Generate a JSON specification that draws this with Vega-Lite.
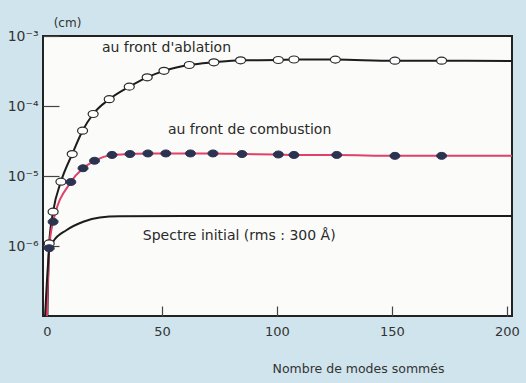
{
  "$schema": "https://vega.github.io/schema/vega-lite/v6.json",
  "width": 469,
  "height": 280,
  "autosize": {"type": "none"},
  "padding": {"left": 43, "top": 36, "right": 14, "bottom": 67},
  "background": "#cfe4ec",
  "config": {
    "view": {"fill": "#fbfbf9", "stroke": "#222222", "strokeWidth": 2},
    "font": "DejaVu Sans"
  },
  "datasets": {
    "curves": [
      {"series": "ablation", "x": 0.2, "y": 1e-7, "marked": false},
      {"series": "ablation", "x": 1.0, "y": 1.09e-6, "marked": true},
      {"series": "ablation", "x": 2.7, "y": 3.09e-6, "marked": true},
      {"series": "ablation", "x": 6.1, "y": 8.3e-6, "marked": true},
      {"series": "ablation", "x": 11, "y": 2.06e-5, "marked": true},
      {"series": "ablation", "x": 15.5, "y": 4.44e-5, "marked": true},
      {"series": "ablation", "x": 20.1, "y": 7.69e-5, "marked": true},
      {"series": "ablation", "x": 27.1, "y": 1.25e-4, "marked": true},
      {"series": "ablation", "x": 35.8, "y": 1.89e-4, "marked": true},
      {"series": "ablation", "x": 43.6, "y": 2.57e-4, "marked": true},
      {"series": "ablation", "x": 50.9, "y": 3.18e-4, "marked": true},
      {"series": "ablation", "x": 61.9, "y": 3.85e-4, "marked": true},
      {"series": "ablation", "x": 72.6, "y": 4.21e-4, "marked": true},
      {"series": "ablation", "x": 84.2, "y": 4.5e-4, "marked": true},
      {"series": "ablation", "x": 100.6, "y": 4.54e-4, "marked": true},
      {"series": "ablation", "x": 107.4, "y": 4.62e-4, "marked": true},
      {"series": "ablation", "x": 125.4, "y": 4.6e-4, "marked": true},
      {"series": "ablation", "x": 151.3, "y": 4.44e-4, "marked": true},
      {"series": "ablation", "x": 171.6, "y": 4.44e-4, "marked": true},
      {"series": "ablation", "x": 202.2, "y": 4.4e-4, "marked": false},
      {"series": "combustion", "x": 0, "y": 1e-7, "marked": false},
      {"series": "combustion", "x": 1.0, "y": 9.3e-7, "marked": true},
      {"series": "combustion", "x": 2.7, "y": 2.22e-6, "marked": true},
      {"series": "combustion", "x": 10.4, "y": 8.2e-6, "marked": true},
      {"series": "combustion", "x": 15.7, "y": 1.29e-5, "marked": true},
      {"series": "combustion", "x": 20.7, "y": 1.65e-5, "marked": true},
      {"series": "combustion", "x": 28.3, "y": 2.0e-5, "marked": true},
      {"series": "combustion", "x": 36.1, "y": 2.06e-5, "marked": true},
      {"series": "combustion", "x": 43.9, "y": 2.1e-5, "marked": true},
      {"series": "combustion", "x": 51.7, "y": 2.1e-5, "marked": true},
      {"series": "combustion", "x": 62.4, "y": 2.1e-5, "marked": true},
      {"series": "combustion", "x": 72.2, "y": 2.1e-5, "marked": true},
      {"series": "combustion", "x": 84.8, "y": 2.06e-5, "marked": true},
      {"series": "combustion", "x": 100.6, "y": 2.03e-5, "marked": true},
      {"series": "combustion", "x": 107.4, "y": 2.0e-5, "marked": true},
      {"series": "combustion", "x": 126, "y": 2.0e-5, "marked": true},
      {"series": "combustion", "x": 151.3, "y": 1.94e-5, "marked": true},
      {"series": "combustion", "x": 171.6, "y": 1.94e-5, "marked": true},
      {"series": "combustion", "x": 202.2, "y": 1.94e-5, "marked": false},
      {"series": "initial", "x": -0.8, "y": 1e-7, "marked": false},
      {"series": "initial", "x": 0.4, "y": 5e-7, "marked": false},
      {"series": "initial", "x": 1.0, "y": 8.8e-7, "marked": false},
      {"series": "initial", "x": 2.7, "y": 1.15e-6, "marked": false},
      {"series": "initial", "x": 8.6, "y": 1.69e-6, "marked": false},
      {"series": "initial", "x": 15.8, "y": 2.22e-6, "marked": false},
      {"series": "initial", "x": 23, "y": 2.55e-6, "marked": false},
      {"series": "initial", "x": 31.7, "y": 2.65e-6, "marked": false},
      {"series": "initial", "x": 60, "y": 2.68e-6, "marked": false},
      {"series": "initial", "x": 202.2, "y": 2.68e-6, "marked": false}
    ],
    "labels": [
      {"text": "au front d'ablation", "x": 23.9, "y": 6.74e-4},
      {"text": "au front de combustion", "x": 52.6, "y": 4.5e-5},
      {"text": "Spectre initial (rms : 300 Å)", "x": 41.7, "y": 1.39e-6}
    ]
  },
  "encoding": {
    "x": {
      "field": "x", "type": "quantitative",
      "scale": {"domain": [-1.7, 202.2], "nice": false, "zero": false},
      "axis": {
        "values": [0, 50, 100, 150, 200],
        "title": "Nombre de modes sommés",
        "titleX": 315, "titleY": 52, "titleAnchor": null, "titleAlign": "center", "titleBaseline": "middle",
        "titleFontWeight": "normal", "titleFontSize": 12.5, "titleColor": "#333333",
        "labelFontSize": 13, "labelColor": "#333333", "labelPadding": 19,
        "tickSize": -10, "tickColor": "#444444", "tickWidth": 1.2,
        "domain": false, "grid": false, "labelFlush": false
      }
    },
    "y": {
      "field": "y", "type": "quantitative",
      "scale": {"type": "log", "domain": [1e-7, 1e-3], "nice": false},
      "axis": {
        "values": [1e-6, 1e-5, 1e-4, 1e-3],
        "labelExpr": "datum.value >= 5e-4 ? '10⁻³' : datum.value >= 5e-5 ? '10⁻⁴' : datum.value >= 5e-6 ? '10⁻⁵' : '10⁻⁶'",
        "title": "(cm)",
        "titleAngle": 0, "titleX": 24, "titleY": -14, "titleAlign": "center", "titleBaseline": "middle",
        "titleFontWeight": "normal", "titleFontSize": 12, "titleColor": "#333333",
        "labelFontSize": 14, "labelColor": "#333333", "labelPadding": 21,
        "tickSize": -16, "tickColor": "#444444", "tickWidth": 1.2,
        "domain": false, "grid": false, "labelFlush": false
      }
    }
  },
  "layer": [
    {
      "data": {"name": "curves"},
      "mark": {"type": "line", "interpolate": "monotone", "strokeWidth": 2, "clip": true},
      "encoding": {
        "detail": {"field": "series", "type": "nominal"},
        "color": {
          "field": "series", "type": "nominal",
          "scale": {"domain": ["ablation", "combustion", "initial"], "range": ["#1c1c1c", "#e0406a", "#1c1c1c"]},
          "legend": null
        }
      }
    },
    {
      "data": {"name": "curves"},
      "transform": [{"filter": "datum.marked && datum.series == 'ablation'"}],
      "mark": {"type": "point", "shape": "M-1,0A1,0.7,0,1,1,1,0A1,0.7,0,1,1,-1,0Z", "size": 100, "filled": true, "fill": "#ffffff", "stroke": "#2a2a2a", "strokeWidth": 1.2, "opacity": 1}
    },
    {
      "data": {"name": "curves"},
      "transform": [{"filter": "datum.marked && datum.series == 'combustion'"}],
      "mark": {"type": "point", "shape": "M-1,0A1,0.7,0,1,1,1,0A1,0.7,0,1,1,-1,0Z", "size": 100, "filled": true, "fill": "#2b3350", "stroke": "#2b3350", "strokeWidth": 1, "opacity": 1}
    },
    {
      "data": {"name": "labels"},
      "mark": {"type": "text", "fontSize": 14, "color": "#2a2a2a", "align": "left", "baseline": "middle"},
      "encoding": {"text": {"field": "text", "type": "nominal"}}
    }
  ]
}
